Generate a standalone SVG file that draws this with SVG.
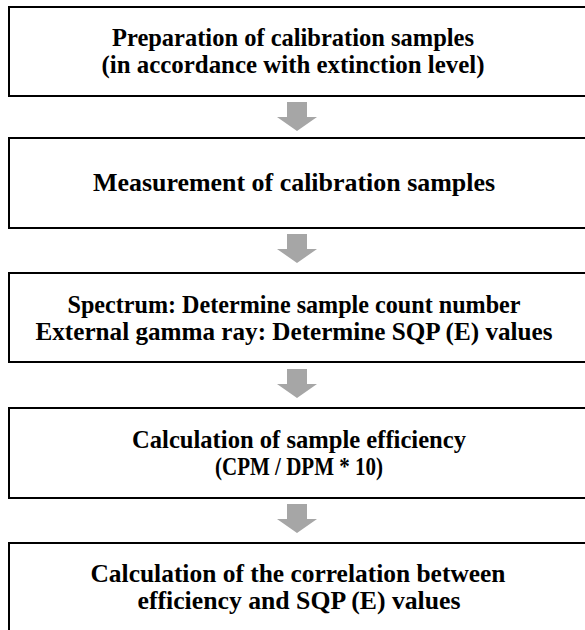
<svg xmlns="http://www.w3.org/2000/svg" width="585" height="630" viewBox="0 0 585 630">
<defs>
<style>
.box{fill:#ffffff;stroke:#000000;stroke-width:2}
.t{font-weight:bold;font-size:25px;fill:#000000;text-anchor:middle}
.arr{fill:#a6a6a6;stroke:none}
</style>
<polygon id="arrowShape" class="arr" points="-10,0 10,0 10,15 20,15 0,29 -20,15 -10,15"/>
</defs>
<rect width="585" height="630" fill="#ffffff"/>
<g id="connectors">
<use href="#arrowShape" x="297" y="102"/>
<use href="#arrowShape" x="297" y="234"/>
<use href="#arrowShape" x="297" y="369"/>
<use href="#arrowShape" x="297" y="504"/>
</g>
<g font-family="Liberation Serif, Times New Roman, serif">
<g id="n1">
<rect class="box" x="9" y="7" width="590" height="89"/>
<text class="t" x="293" y="46" textLength="362" lengthAdjust="spacingAndGlyphs">Preparation of calibration samples</text>
<text class="t" x="293" y="73" textLength="383" lengthAdjust="spacingAndGlyphs">(in accordance with extinction level)</text>
</g>
<g id="n2">
<rect class="box" x="9" y="138" width="590" height="90"/>
<text class="t" x="294" y="191" textLength="402" lengthAdjust="spacingAndGlyphs">Measurement of calibration samples</text>
</g>
<g id="n3">
<rect class="box" x="9" y="273" width="590" height="89"/>
<text class="t" x="294" y="313" textLength="453" lengthAdjust="spacingAndGlyphs">Spectrum: Determine sample count number</text>
<text class="t" x="294" y="340" textLength="517" lengthAdjust="spacingAndGlyphs">External gamma ray: Determine SQP (E) values</text>
</g>
<g id="n4">
<rect class="box" x="9" y="408" width="590" height="90"/>
<text class="t" x="299" y="448" textLength="334" lengthAdjust="spacingAndGlyphs">Calculation of sample efficiency</text>
<text class="t" x="299" y="475" textLength="168" lengthAdjust="spacingAndGlyphs">(CPM / DPM * 10)</text>
</g>
<g id="n5">
<rect class="box" x="9" y="543" width="590" height="100"/>
<text class="t" x="298" y="582" textLength="415" lengthAdjust="spacingAndGlyphs">Calculation of the correlation between</text>
<text class="t" x="299" y="609" textLength="323" lengthAdjust="spacingAndGlyphs">efficiency and SQP (E) values</text>
</g>
</g>
</svg>
